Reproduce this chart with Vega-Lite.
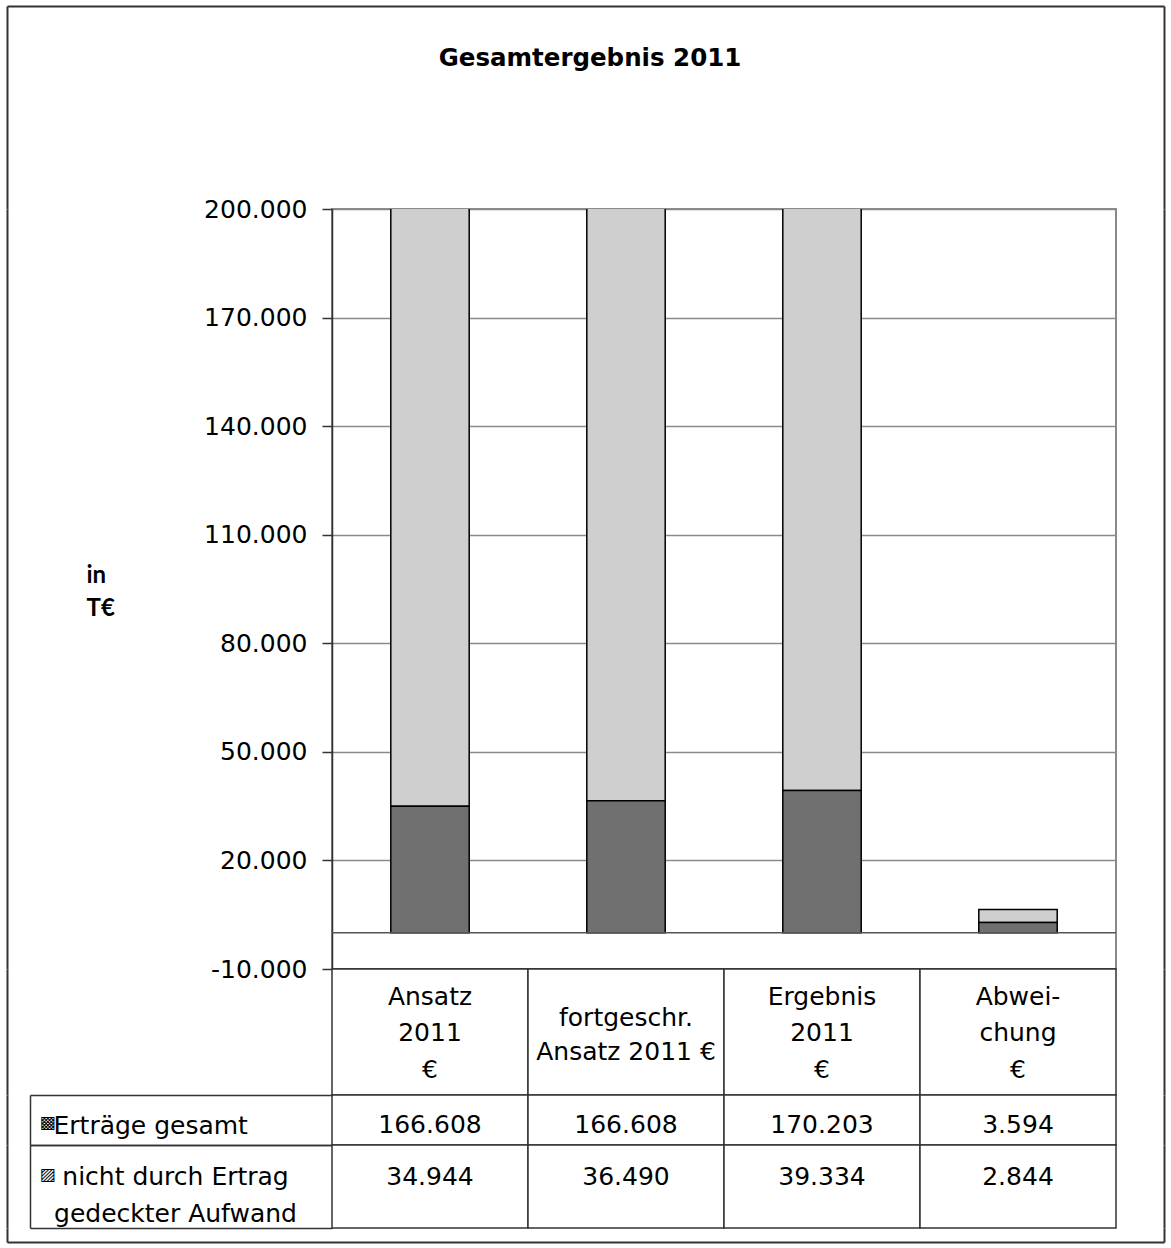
{
  "$schema": "https://vega.github.io/schema/vega-lite/v6.json",
  "padding": {"left": 6, "top": 5, "right": 6, "bottom": 5},
  "background": "white",
  "bounds": "flush",
  "spacing": 0,
  "title": {"text": "Gesamtergebnis 2011", "font": "DejaVu Sans", "fontSize": 24.5, "fontWeight": "bold", "color": "black", "anchor": "middle", "frame": "bounds", "dx": 4.5, "offset": -66.5},
  "config": {
    "view": {"stroke": null},
    "font": "DejaVu Sans",
    "locale": {"number": {"decimal": ",", "thousands": ".", "grouping": [3], "currency": ["", " €"], "minus": "-"}},
    "axis": {"labelFont": "DejaVu Sans", "labelColor": "black", "labelFontSize": 25}
  },
  "datasets": {
    "werte": [
      {"spalte": "Ansatz 2011 €", "serie": "Erträge gesamt", "wert": 166608},
      {"spalte": "Ansatz 2011 €", "serie": "nicht durch Ertrag gedeckter Aufwand", "wert": 34944},
      {"spalte": "fortgeschr. Ansatz 2011 €", "serie": "Erträge gesamt", "wert": 166608},
      {"spalte": "fortgeschr. Ansatz 2011 €", "serie": "nicht durch Ertrag gedeckter Aufwand", "wert": 36490},
      {"spalte": "Ergebnis 2011 €", "serie": "Erträge gesamt", "wert": 170203},
      {"spalte": "Ergebnis 2011 €", "serie": "nicht durch Ertrag gedeckter Aufwand", "wert": 39334},
      {"spalte": "Abweichung €", "serie": "Erträge gesamt", "wert": 3594},
      {"spalte": "Abweichung €", "serie": "nicht durch Ertrag gedeckter Aufwand", "wert": 2844}
    ],
    "spalten": [
      {"spalte": "Ansatz 2011 €", "kopf": "Ansatz\n2011\n€"},
      {"spalte": "fortgeschr. Ansatz 2011 €", "kopf": "fortgeschr.\nAnsatz 2011 €"},
      {"spalte": "Ergebnis 2011 €", "kopf": "Ergebnis\n2011\n€"},
      {"spalte": "Abweichung €", "kopf": "Abwei-\nchung\n€"}
    ],
    "null": [{}]
  },
  "vconcat": [
    {
      "width": 784,
      "height": 203,
      "data": {"name": "null"},
      "layer": [
        {
          "mark": {"type": "text", "text": "", "fontSize": 1, "baseline": "top"},
          "encoding": {
            "y": {
              "datum": "oben", "type": "nominal",
              "scale": {"type": "point", "padding": 0, "align": 0},
              "axis": {"orient": "left", "title": null, "offset": 325, "labels": false, "grid": false,
                       "domain": true, "domainColor": "#333333", "domainWidth": 2,
                       "ticks": true, "tickSize": -1157, "tickColor": "#333333", "tickWidth": 2}
            }
          }
        },
        {
          "mark": {"type": "text", "text": "", "fontSize": 1, "baseline": "top"},
          "encoding": {
            "y": {
              "datum": "oben", "type": "nominal",
              "axis": {"orient": "right", "title": null, "offset": 48, "labels": false, "grid": false, "ticks": false,
                       "domain": true, "domainColor": "#333333", "domainWidth": 2}
            }
          }
        }
      ],
      "resolve": {"axis": {"y": "independent"}}
    },
    {
      "width": 784,
      "height": 760,
      "view": {"stroke": "#8a8a8a", "strokeWidth": 2},
      "layer": [
        {
          "data": {"name": "werte"},
          "mark": {"type": "bar", "clip": true, "stroke": "black", "strokeWidth": 1.5, "width": {"band": 0.4}},
          "encoding": {
            "x": {"field": "spalte", "type": "nominal", "sort": null, "axis": null, "scale": {"paddingInner": 0, "paddingOuter": 0}},
            "y": {
              "field": "wert", "type": "quantitative", "stack": "zero",
              "scale": {"domain": [-10000, 200000], "nice": false, "zero": false},
              "axis": {
                "orient": "left",
                "values": [-10000, 20000, 50000, 80000, 110000, 140000, 170000, 200000],
                "format": ",d",
                "grid": true, "gridColor": "#8a8a8a", "gridWidth": 1.5,
                "tickSize": 10, "tickColor": "#333333", "tickWidth": 1.5,
                "domainColor": "#333333", "domainWidth": 1.5,
                "labelPadding": 15, "labelFontSize": 25, "labelFont": "DejaVu Sans", "labelColor": "black",
                "title": ["in", "T€"], "titleAngle": 0, "titleAlign": "left", "titleBaseline": "alphabetic",
                "titleX": -246, "titleY": 373, "titleFont": "Lato", "titleFontSize": 24, "titleFontWeight": "bold",
                "titleColor": "black", "titleLineHeight": 33
              }
            },
            "color": {
              "field": "serie", "type": "nominal",
              "scale": {"domain": ["Erträge gesamt", "nicht durch Ertrag gedeckter Aufwand"], "range": ["#cfcfcf", "#707070"]},
              "legend": null
            },
            "order": {"field": "serie", "sort": "descending"}
          }
        },
        {
          "data": {"name": "null"},
          "mark": {"type": "rule", "color": "#555555", "strokeWidth": 1.5},
          "encoding": {
            "y": {
              "datum": 0, "type": "quantitative",
              "axis": {"orient": "left", "title": null, "offset": 325, "labels": false, "grid": false, "ticks": false,
                       "domain": true, "domainColor": "#333333", "domainWidth": 2}
            }
          }
        },
        {
          "data": {"name": "null"},
          "mark": {"type": "rule", "color": "#333333", "strokeWidth": 1.5},
          "encoding": {
            "y": {
              "datum": -10000, "type": "quantitative",
              "axis": {"orient": "right", "title": null, "offset": 48, "labels": false, "grid": false, "ticks": false,
                       "domain": true, "domainColor": "#333333", "domainWidth": 2}
            }
          }
        }
      ],
      "resolve": {"axis": {"y": "independent"}}
    },
    {
      "width": 784,
      "height": 126,
      "data": {"name": "spalten"},
      "layer": [
        {
          "mark": {"type": "rect", "fill": "white", "stroke": "#333333", "strokeWidth": 1.5},
          "encoding": {
            "x": {"field": "spalte", "type": "nominal", "sort": null, "axis": null, "scale": {"paddingInner": 0, "paddingOuter": 0}},
            "y": {
              "datum": "Kopf", "type": "nominal",
              "scale": {"paddingInner": 0, "paddingOuter": 0},
              "axis": {"orient": "left", "title": null, "offset": 325, "labels": false, "grid": false, "ticks": false,
                       "domain": true, "domainColor": "#333333", "domainWidth": 2}
            }
          }
        },
        {
          "transform": [{"filter": "length(split(datum.kopf, '\\n')) === 3"}],
          "mark": {"type": "text", "font": "DejaVu Sans", "fontSize": 25, "lineBreak": "\n", "lineHeight": 36.5, "baseline": "middle", "align": "center", "color": "black", "dy": -35.5},
          "encoding": {
            "x": {"field": "spalte", "type": "nominal", "sort": null, "axis": null},
            "y": {
              "datum": "Kopf", "type": "nominal",
              "axis": {"orient": "right", "title": null, "offset": 48, "labels": false, "grid": false, "ticks": false,
                       "domain": true, "domainColor": "#333333", "domainWidth": 2}
            },
            "text": {"field": "kopf", "type": "nominal"}
          }
        },
        {
          "transform": [{"filter": "length(split(datum.kopf, '\\n')) === 2"}],
          "mark": {"type": "text", "font": "DejaVu Sans", "fontSize": 25, "lineBreak": "\n", "lineHeight": 34, "baseline": "middle", "align": "center", "color": "black", "dy": -14},
          "encoding": {
            "x": {"field": "spalte", "type": "nominal", "sort": null, "axis": null},
            "y": {"datum": "Kopf", "type": "nominal", "axis": null},
            "text": {"field": "kopf", "type": "nominal"}
          }
        }
      ],
      "resolve": {"axis": {"y": "independent"}}
    },
    {
      "width": 784,
      "height": 50,
      "data": {"name": "werte"},
      "transform": [{"filter": "datum.serie === 'Erträge gesamt'"}],
      "layer": [
        {
          "mark": {"type": "rect", "fill": "white", "stroke": "#333333", "strokeWidth": 1.5},
          "encoding": {
            "x": {"field": "spalte", "type": "nominal", "sort": null, "axis": null, "scale": {"paddingInner": 0, "paddingOuter": 0}},
            "y": {
              "field": "serie", "type": "nominal",
              "scale": {"paddingInner": 0, "paddingOuter": 0},
              "axis": {
                "orient": "left", "title": null, "offset": 302,
                "domain": true, "domainColor": "#333333", "domainWidth": 1.5,
                "ticks": true, "tickBand": "extent", "tickSize": -302, "tickColor": "#333333", "tickWidth": 1.5,
                "grid": false,
                "labelAlign": "left", "labelBaseline": "middle", "labelPadding": 279, "labelLimit": 0,
                "labelFontSize": 25, "labelOffset": 5
              }
            }
          }
        },
        {
          "mark": {"type": "text", "font": "DejaVu Sans", "fontSize": 25, "baseline": "middle", "align": "center", "color": "black", "dy": 5},
          "encoding": {
            "x": {"field": "spalte", "type": "nominal", "sort": null, "axis": null},
            "y": {
              "field": "serie", "type": "nominal",
              "axis": {
                "orient": "left", "title": null, "offset": 325, "ticks": false, "grid": false,
                "domain": true, "domainColor": "#333333", "domainWidth": 2,
                "labelAlign": "left", "labelBaseline": "middle", "labelPadding": -32, "labelLimit": 0,
                "labelFontSize": 17, "labelExpr": "datum.label ? '▩' : ''", "labelOffset": 3
              }
            },
            "text": {"field": "wert", "type": "quantitative", "format": ",d"}
          }
        },
        {
          "mark": {"type": "rect", "opacity": 0},
          "encoding": {
            "x": {"field": "spalte", "type": "nominal", "sort": null, "axis": null},
            "y": {
              "field": "serie", "type": "nominal",
              "axis": {"orient": "right", "title": null, "offset": 48, "labels": false, "grid": false, "ticks": false,
                       "domain": true, "domainColor": "#333333", "domainWidth": 2}
            }
          }
        }
      ],
      "resolve": {"axis": {"y": "independent"}}
    },
    {
      "width": 784,
      "height": 83,
      "data": {"name": "werte"},
      "transform": [{"filter": "datum.serie === 'nicht durch Ertrag gedeckter Aufwand'"}],
      "layer": [
        {
          "mark": {"type": "rect", "fill": "white", "stroke": "#333333", "strokeWidth": 1.5},
          "encoding": {
            "x": {"field": "spalte", "type": "nominal", "sort": null, "axis": null, "scale": {"paddingInner": 0, "paddingOuter": 0}},
            "y": {
              "field": "serie", "type": "nominal",
              "scale": {"paddingInner": 0, "paddingOuter": 0},
              "axis": {
                "orient": "left", "title": null, "offset": 302,
                "domain": true, "domainColor": "#333333", "domainWidth": 1.5,
                "ticks": true, "tickBand": "extent", "tickSize": -302, "tickColor": "#333333", "tickWidth": 1.5,
                "grid": false,
                "labelAlign": "center", "labelBaseline": "middle", "labelPadding": 157, "labelLimit": 0,
                "labelFontSize": 25, "labelOffset": -10, "labelLineHeight": 37,
                "labelExpr": "datum.label ? ['nicht durch Ertrag', 'gedeckter Aufwand'] : ''"
              }
            }
          }
        },
        {
          "mark": {"type": "text", "font": "DejaVu Sans", "fontSize": 25, "baseline": "middle", "align": "center", "color": "black", "dy": -10},
          "encoding": {
            "x": {"field": "spalte", "type": "nominal", "sort": null, "axis": null},
            "y": {
              "field": "serie", "type": "nominal",
              "axis": {
                "orient": "left", "title": null, "offset": 325, "ticks": false, "grid": false,
                "domain": true, "domainColor": "#333333", "domainWidth": 2,
                "labelAlign": "left", "labelBaseline": "middle", "labelPadding": -32, "labelLimit": 0,
                "labelFontSize": 17, "labelExpr": "datum.label ? '▨' : ''", "labelOffset": -12
              }
            },
            "text": {"field": "wert", "type": "quantitative", "format": ",d"}
          }
        },
        {
          "mark": {"type": "rect", "opacity": 0},
          "encoding": {
            "x": {"field": "spalte", "type": "nominal", "sort": null, "axis": null},
            "y": {
              "field": "serie", "type": "nominal",
              "axis": {"orient": "right", "title": null, "offset": 48, "labels": false, "grid": false, "ticks": false,
                       "domain": true, "domainColor": "#333333", "domainWidth": 2}
            }
          }
        }
      ],
      "resolve": {"axis": {"y": "independent"}}
    },
    {
      "width": 784,
      "height": 14,
      "data": {"name": "null"},
      "layer": [
        {
          "mark": {"type": "text", "text": "", "fontSize": 1, "baseline": "bottom"},
          "encoding": {
            "y": {
              "datum": "unten", "type": "nominal",
              "scale": {"type": "point", "padding": 0, "align": 1},
              "axis": {"orient": "left", "title": null, "offset": 325, "labels": false, "grid": false,
                       "domain": true, "domainColor": "#333333", "domainWidth": 2,
                       "ticks": true, "tickSize": -1157, "tickColor": "#333333", "tickWidth": 2}
            }
          }
        },
        {
          "mark": {"type": "text", "text": "", "fontSize": 1, "baseline": "bottom"},
          "encoding": {
            "y": {
              "datum": "unten", "type": "nominal",
              "axis": {"orient": "right", "title": null, "offset": 48, "labels": false, "grid": false, "ticks": false,
                       "domain": true, "domainColor": "#333333", "domainWidth": 2}
            }
          }
        }
      ],
      "resolve": {"axis": {"y": "independent"}}
    }
  ]
}
